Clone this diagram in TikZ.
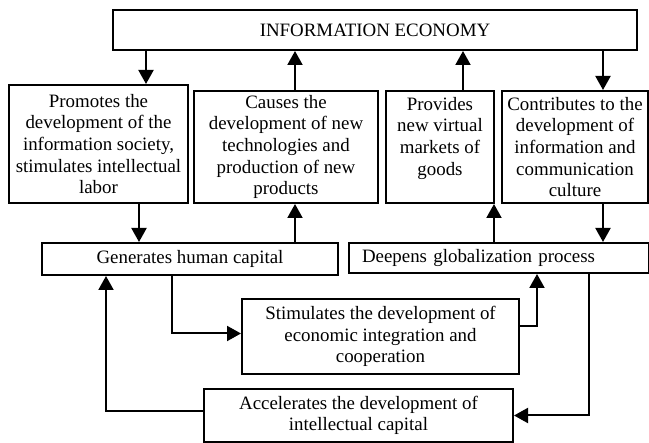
\documentclass[tikz,border=0pt]{standalone}
\usepackage{fontspec}
\setmainfont{Liberation Serif}
\usetikzlibrary{arrows.meta}
\tikzset{
  box/.style={draw, line width=2pt, align=center, inner sep=0pt,
    font=\fontsize{18.9}{21.7}\selectfont},
  arr/.style={line width=2pt, -{Triangle[length=14pt,width=15pt]}}
}
\begin{document}
\begin{tikzpicture}[x=1pt,y=-1pt]
\useasboundingbox (0,0) rectangle (649,443);
% top row
\node[box, minimum width=524pt, minimum height=40pt] (econ) at (375,30) {INFORMATION ECONOMY};
\node[box, minimum width=179pt, minimum height=118pt] (promo) at (98.5,144)
  {Promotes the\\development of the\\information society,\\stimulates intellectual\\labor};
\node[box, minimum width=184pt, minimum height=112pt] (causes) at (286,147)
  {Causes the\\development of new\\technologies and\\production of new\\products};
\node[box, minimum width=108pt, minimum height=112pt] (provides) at (440,147)
  {Provides\\new virtual\\markets of\\goods\\\mbox{}};
\node[box, minimum width=146pt, minimum height=112pt] (contrib) at (575,147)
  {Contributes to the\\development of\\information and\\communication\\culture};
% middle and bottom
\node[box, minimum width=296pt, minimum height=32pt] (human) at (190,259) {Generates human capital};
\node[box, align=left, text width=274pt, inner xsep=13pt, minimum height=30pt] (glob) at (499,258)
  {Deepens globalization process};
\node[box, minimum width=277pt, minimum height=75pt] (integ) at (380.5,336.5)
  {Stimulates the development of\\economic integration and\\cooperation};
\node[box, minimum width=309pt, minimum height=53pt] (accel) at (358.5,415.5)
  {Accelerates the development of\\intellectual capital};
% x positions of the connectors
\coordinate (a1) at (146,0);
\coordinate (a2) at (295,0);
\coordinate (a3) at (463,0);
\coordinate (a4) at (603,0);
\coordinate (a5) at (139,0);
\coordinate (a6) at (494,0);
\coordinate (a7) at (172,0);
\coordinate (a8) at (537,0);
\coordinate (a9) at (589,0);
\coordinate (a10) at (106,0);
\draw[arr] (econ.south -| a1) -- (promo.north -| a1);
\draw[arr] (causes.north -| a2) -- (econ.south -| a2);
\draw[arr] (provides.north -| a3) -- (econ.south -| a3);
\draw[arr] (econ.south -| a4) -- (contrib.north -| a4);
\draw[arr] (promo.south -| a5) -- (human.north -| a5);
\draw[arr] (human.north -| a2) -- (causes.south -| a2);
\draw[arr] (glob.north -| a6) -- (provides.south -| a6);
\draw[arr] (contrib.south -| a4) -- (glob.north -| a4);
\draw[arr] (human.south -| a7) |- ([yshift=3pt]integ.west);
\draw[arr] ([yshift=10pt]integ.east) -| (glob.south -| a8);
\draw[arr] (glob.south -| a9) |- (accel.east);
\draw[arr] ([yshift=4pt]accel.west) -| (human.south -| a10);
\end{tikzpicture}
\end{document}
